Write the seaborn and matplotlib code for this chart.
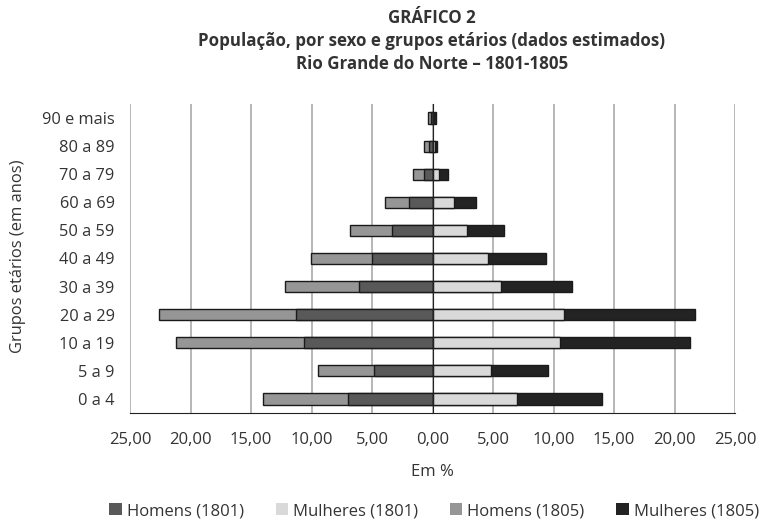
import numpy as np
import pandas as pd
import matplotlib
matplotlib.use('Agg')
import matplotlib.pyplot as plt
from matplotlib.patches import Patch
import seaborn as sns

# Dados (em %), do grupo mais jovem ao mais velho
grupos = ['0 a 4', '5 a 9', '10 a 19', '20 a 29', '30 a 39', '40 a 49',
          '50 a 59', '60 a 69', '70 a 79', '80 a 89', '90 e mais']
homens_1801 = [6.97, 4.80, 10.58, 11.28, 6.08, 5.00, 3.36, 1.92, 0.67, 0.33, 0.15]
homens_1805 = [7.03, 4.70, 10.59, 11.32, 6.11, 5.03, 3.42, 2.00, 0.91, 0.36, 0.20]
mulheres_1801 = [6.96, 4.84, 10.55, 10.88, 5.69, 4.61, 2.87, 1.80, 0.55, 0.20, 0.08]
mulheres_1805 = [7.02, 4.72, 10.74, 10.78, 5.80, 4.73, 3.07, 1.82, 0.75, 0.21, 0.17]

xticks = [-25, -20, -15, -10, -5, 0, 5, 10, 15, 20, 25]
xticklabels = ['25,00', '20,00', '15,00', '10,00', '5,00', '0,00',
               '5,00', '10,00', '15,00', '20,00', '25,00']

cores = {'Homens (1801)': '#595959', 'Mulheres (1801)': '#d9d9d9',
         'Homens (1805)': '#969696', 'Mulheres (1805)': '#232323'}

df = pd.DataFrame({'grupo': grupos,
                   'h1801': homens_1801, 'h1805': homens_1805,
                   'm1801': mulheres_1801, 'm1805': mulheres_1805})
# homens para a esquerda (negativo), barras empilhadas
df['h_total'] = -(df['h1801'] + df['h1805'])
df['h_in'] = -df['h1801']
df['m_total'] = df['m1801'] + df['m1805']
df['m_in'] = df['m1801']

sns.set_style('white')
plt.rcParams['font.family'] = ['Open Sans', 'DejaVu Sans']
txt = '#333333'

fig = plt.figure(figsize=(7.63, 5.26), dpi=100)
ax = fig.add_axes([130 / 763, 1 - 413 / 526, 605 / 763, 309 / 526])

ordem = grupos[::-1]
kw = dict(y='grupo', order=ordem, orient='h', width=0.4,
          edgecolor='#1a1a1a', linewidth=1.0, ax=ax, zorder=3)
sns.barplot(data=df, x='h_total', color=cores['Homens (1805)'], **kw)
sns.barplot(data=df, x='h_in', color=cores['Homens (1801)'], **kw)
sns.barplot(data=df, x='m_total', color=cores['Mulheres (1805)'], **kw)
sns.barplot(data=df, x='m_in', color=cores['Mulheres (1801)'], **kw)

ax.set_xlim(-25, 25)
ax.set_ylim(len(grupos) - 0.5, -0.5)
ax.set_xticks(xticks)
ax.set_xticklabels(xticklabels, fontsize=12, color=txt)
ax.grid(axis='x', color='#aaaaaa', linewidth=1.2, zorder=0)
ax.grid(axis='y', visible=False)

# eixo vertical no zero com marcas entre os grupos
ax.spines['left'].set_position(('data', 0))
ax.spines['left'].set_color('#222222')
ax.spines['left'].set_zorder(4)
for s in ['top', 'right']:
    ax.spines[s].set_visible(False)
ax.spines['bottom'].set_color('#222222')
ax.set_yticks(range(len(grupos)))
ax.set_yticklabels([])
ax.set_yticks(np.arange(-0.5, len(grupos), 1), minor=True)
ax.tick_params(axis='y', which='major', length=0)
ax.tick_params(axis='y', which='minor', length=5, width=1.2, color='#222222', direction='out')
ax.tick_params(axis='x', length=5, width=1.2, color='#222222', direction='out', pad=9)

# rótulos dos grupos na margem esquerda
sec = ax.secondary_yaxis('left')
sec.set_yticks(range(len(grupos)))
sec.set_yticklabels(ordem, fontsize=11.8, color=txt)
sec.tick_params(length=0, pad=11)
sec.spines['left'].set_visible(False)

ax.set_xlabel('Em %', fontsize=12, color=txt, labelpad=11)
ax.set_ylabel('')
fig.text(18 / 763, 1 - 256 / 526, 'Grupos etários (em anos)', rotation=90,
         ha='center', va='center', fontsize=11.9, color=txt)

fig.text(432 / 763, 1 - 18 / 526, 'GRÁFICO 2', ha='center', va='center',
         fontsize=12.2, fontweight='bold', color=txt)
fig.text(432 / 763, 1 - 41 / 526, 'População, por sexo e grupos etários (dados estimados)',
         ha='center', va='center', fontsize=12.2, fontweight='bold', color=txt)
fig.text(432 / 763, 1 - 64 / 526, 'Rio Grande do Norte – 1801-1805', ha='center',
         va='center', fontsize=12.2, fontweight='bold', color=txt)

handles = [Patch(facecolor=c, edgecolor='none', label=k) for k, c in cores.items()]
fig.legend(handles=handles, loc='center', bbox_to_anchor=(434 / 763, 1 - 511 / 526),
           ncol=4, frameon=False, fontsize=12, handlelength=0.75, handleheight=0.75,
           handletextpad=0.3, columnspacing=1.9, labelcolor=txt)

plt.savefig('out.png', dpi=100)
